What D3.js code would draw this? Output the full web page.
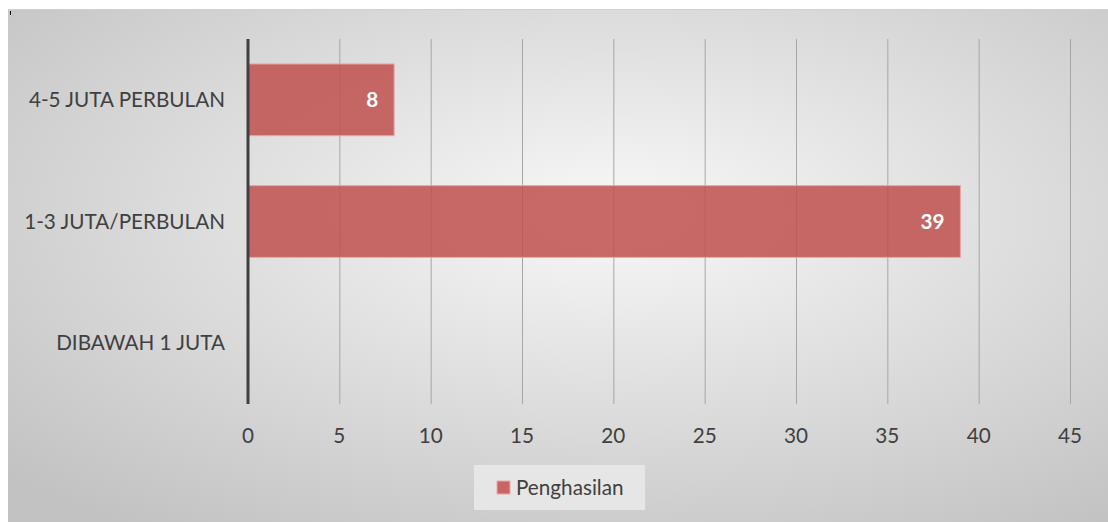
<!DOCTYPE html>
<html>
<head>
<meta charset="utf-8">
<script src="https://cdn.jsdelivr.net/npm/d3@7"></script>
<style>
	body { margin: 0; background: #fff; }
	svg { display: block; font-family: Lato, "Open Sans", sans-serif; }
</style>
</head>
<body>
<div id="chart"></div>
<script>
let width = 1108;
let height = 522;

let categories = ["4-5 JUTA PERBULAN", "1-3 JUTA/PERBULAN", "DIBAWAH 1 JUTA"];
let values = [8, 39, null];
let ticks = [0, 5, 10, 15, 20, 25, 30, 35, 40, 45];
let seriesName = "Penghasilan";

let margin = {top: 39, right: 38, bottom: 118, left: 248};
let fontSize = "20.7px";

let svg = d3.select("#chart").append("svg")
	.attr("width", width)
	.attr("height", height);

// background with a soft radial glow
let defs = svg.append("defs");
let grad = defs.append("radialGradient")
	.attr("id", "bg")
	.attr("cx", "55%").attr("cy", "40%").attr("r", "75%");
grad.append("stop").attr("offset", "0%").attr("stop-color", "#f8f8f8");
grad.append("stop").attr("offset", "100%").attr("stop-color", "#c2c2c2");

svg.append("rect")
	.attr("x", 8).attr("y", 9)
	.attr("width", width - 8).attr("height", height - 9)
	.attr("fill", "url(#bg)");
svg.append("line")
	.attr("x1", 8).attr("x2", width).attr("y1", 9.5).attr("y2", 9.5)
	.attr("stroke", "#d0d0d0");
svg.append("rect")
	.attr("x", 10).attr("y", 11).attr("width", 1).attr("height", 4)
	.attr("fill", "#000");

let x = d3.scaleLinear()
	.domain([0, 45])
	.range([margin.left, width - margin.right]);

let y = d3.scaleBand()
	.domain(categories)
	.range([margin.top, height - margin.bottom])
	.paddingInner(0.41)
	.paddingOuter(0.205);

let g = svg.append("g");

// vertical gridlines
g.selectAll("line.grid")
	.data(ticks.slice(1))
	.enter().append("line")
	.attr("class", "grid")
	.attr("x1", function(d){ return x(d) + 0.5; })
	.attr("x2", function(d){ return x(d) + 0.5; })
	.attr("y1", margin.top)
	.attr("y2", height - margin.bottom)
	.attr("stroke", "#a6a6a6")
	.attr("stroke-width", 1);

// bars
let bars = categories.map(function(c, i){ return {cat: c, value: values[i]}; })
	.filter(function(d){ return d.value != null; });

g.selectAll("rect.bar")
	.data(bars)
	.enter().append("rect")
	.attr("class", "bar")
	.attr("x", x(0))
	.attr("y", function(d){ return y(d.cat); })
	.attr("width", function(d){ return x(d.value) - x(0); })
	.attr("height", y.bandwidth())
	.attr("fill", "#c0504d")
	.attr("fill-opacity", 0.85)
	.attr("stroke", "#e8a8a6")
	.attr("stroke-width", 1);

g.selectAll("text.val")
	.data(bars)
	.enter().append("text")
	.attr("class", "val")
	.attr("x", function(d){ return x(d.value) - 16; })
	.attr("y", function(d){ return y(d.cat) + y.bandwidth() / 2; })
	.attr("dy", "0.35em")
	.attr("text-anchor", "end")
	.attr("fill", "#fff")
	.attr("font-weight", "bold")
	.attr("font-size", fontSize)
	.text(function(d){ return d.value; });

// value axis at zero
g.append("line")
	.attr("x1", x(0)).attr("x2", x(0))
	.attr("y1", margin.top).attr("y2", height - margin.bottom)
	.attr("stroke", "#404040")
	.attr("stroke-width", 3);

// category labels
g.selectAll("text.cat")
	.data(categories)
	.enter().append("text")
	.attr("class", "cat")
	.attr("x", x(0) - 23)
	.attr("y", function(d){ return y(d) + y.bandwidth() / 2; })
	.attr("dy", "0.35em")
	.attr("text-anchor", "end")
	.attr("fill", "#404040")
	.attr("font-size", fontSize)
	.text(function(d){ return d; });

// tick labels
g.selectAll("text.tick")
	.data(ticks)
	.enter().append("text")
	.attr("class", "tick")
	.attr("x", function(d){ return x(d); })
	.attr("y", 436)
	.attr("dy", "0.35em")
	.attr("text-anchor", "middle")
	.attr("fill", "#404040")
	.attr("font-size", fontSize)
	.text(function(d){ return d; });

// legend
let legend = svg.append("g");
legend.append("rect")
	.attr("x", 474).attr("y", 465)
	.attr("width", 171).attr("height", 45)
	.attr("fill", "#e6e6e6");
legend.append("rect")
	.attr("x", 497).attr("y", 481)
	.attr("width", 13).attr("height", 13)
	.attr("fill", "#c0504d")
	.attr("fill-opacity", 0.85)
	.attr("stroke", "#e8a8a6");
legend.append("text")
	.attr("x", 516).attr("y", 488)
	.attr("dy", "0.35em")
	.attr("fill", "#404040")
	.attr("font-size", fontSize)
	.text(seriesName);
</script>
</body>
</html>
